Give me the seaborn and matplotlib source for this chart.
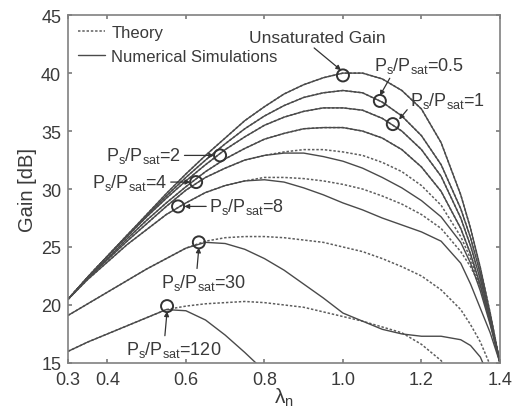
import numpy as np
import pandas as pd
import seaborn as sns
import matplotlib
matplotlib.use("Agg")
import matplotlib.pyplot as plt
from matplotlib.lines import Line2D

# ---- data ----
lam = [0.30, 0.35, 0.40, 0.45, 0.50, 0.55, 0.60, 0.65, 0.70, 0.75, 0.80, 0.85,
       0.90, 0.95, 1.00, 1.05, 1.10, 1.15, 1.20, 1.25, 1.30, 1.325, 1.35, 1.375, 1.40]

nan = np.nan
# Theory (dashed)
th_unsat = [20.5, 22.4, 24.2, 26.0, 27.8, 29.6, 31.3, 32.9, 34.4, 35.9, 37.1, 38.2,
            39.0, 39.6, 40.0, 40.0, 39.5, 38.5, 36.9, 34.0, 29.5, 26.6, 23.2, 19.3, 15.0]
th_05 = [20.5, 22.4, 24.2, 26.0, 27.7, 29.4, 31.0, 32.5, 33.9, 35.2, 36.3, 37.2,
         37.9, 38.3, 38.5, 38.3, 37.5, 36.3, 34.6, 32.1, 28.3, 25.8, 22.7, 19.0, 15.0]
th_1 = [20.5, 22.4, 24.2, 25.9, 27.6, 29.2, 30.7, 32.1, 33.4, 34.5, 35.5, 36.2,
        36.7, 37.0, 37.0, 36.8, 36.1, 35.0, 33.4, 31.1, 27.5, 25.1, 22.2, 18.8, 15.0]
th_2 = [20.5, 22.3, 24.0, 25.7, 27.3, 28.8, 30.2, 31.5, 32.6, 33.5, 34.3, 34.8,
        35.2, 35.3, 35.3, 35.0, 34.4, 33.4, 31.9, 29.8, 26.6, 24.4, 21.7, 18.5, 15.0]
th_4 = [20.5, 22.3, 23.9, 25.5, 27.0, 28.5, 29.9, 31.0, 31.8, 32.5, 32.9, 33.2,
        33.4, 33.4, 33.2, 32.9, 32.3, 31.5, 30.3, 28.6, 25.9, 24.0, 21.5, 18.5, 15.0]
th_8 = [20.5, 22.2, 23.7, 25.2, 26.5, 27.8, 28.8, 29.7, 30.3, 30.7, 31.0, 31.0,
        30.9, 30.7, 30.4, 30.0, 29.4, 28.7, 27.8, 26.6, 24.6, 23.3, 21.6, 18.8, 15.0]
th_30 = [19.1, 20.1, 21.1, 22.1, 23.1, 24.0, 24.9, 25.5, 25.8, 25.9, 25.9, 25.8,
         25.6, 25.4, 25.0, 24.6, 24.0, 23.3, 22.5, 21.3, 19.6, 18.3, 16.8, 14.8, 12.5]
th_120 = [16.0, 16.8, 17.5, 18.2, 18.9, 19.6, 19.9, 20.1, 20.2, 20.3, 20.2, 20.0,
          19.8, 19.4, 19.0, 18.6, 18.1, 17.6, 16.6, 15.2, 13.0, nan, nan, nan, nan]

# Numerical simulations (solid)
sim_unsat = th_unsat
sim_05 = th_05
sim_1 = th_1
sim_2 = th_2
sim_4 = [20.5, 22.3, 23.9, 25.5, 27.0, 28.5, 29.9, 31.0, 31.8, 32.5, 32.9, 33.1,
         33.1, 32.8, 32.4, 31.8, 31.0, 30.1, 29.0, 27.6, 25.4, 23.6, 21.2, 18.3, 15.0]
sim_8 = [20.5, 22.2, 23.7, 25.2, 26.5, 27.8, 28.8, 29.7, 30.3, 30.7, 30.8, 30.6,
         30.1, 29.5, 28.8, 28.2, 27.5, 26.9, 26.3, 25.5, 23.6, 21.8, 19.7, 17.6, 15.0]
sim_30 = [19.1, 20.1, 21.1, 22.1, 23.1, 24.0, 24.9, 25.4, 25.3, 24.8, 24.0, 23.0,
          21.8, 20.6, 19.3, 18.6, 17.9, 17.5, 17.3, 17.3, 17.0, 16.5, 15.5, 13.5, 12.0]
sim_120 = [16.0, 16.8, 17.5, 18.2, 18.9, 19.6, 19.5, 18.7, 17.4, 15.9, 14.3, 12.8,
           nan, nan, nan, nan, nan, nan, nan, nan, nan, nan, nan, nan, nan]

theory = [th_unsat, th_05, th_1, th_2, th_4, th_8, th_30, th_120]
sims = [sim_unsat, sim_05, sim_1, sim_2, sim_4, sim_8, sim_30, sim_120]

# marker (circle) positions
mark_x = [1.00, 1.094, 1.127, 0.687, 0.626, 0.58, 0.633, 0.552]
mark_y = [39.8, 37.6, 35.6, 32.9, 30.6, 28.5, 25.4, 19.9]

xticks = [0.3, 0.4, 0.6, 0.8, 1.0, 1.2, 1.4]
xticklabels = ['0.3', '0.4', '0.6', '0.8', '1.0', '1.2', '1.4']
yticks = [15, 20, 25, 30, 35, 40, 45]

# ---- styling ----
sns.set_theme(style="ticks")
plt.rcParams['font.family'] = ['Liberation Sans', 'DejaVu Sans']
plt.rcParams['mathtext.fontset'] = 'custom'
plt.rcParams['mathtext.rm'] = 'Liberation Sans'
plt.rcParams['mathtext.it'] = 'Liberation Sans:italic'

line_c = '#4a4a4a'
dash_c = '#5e5e5e'
txt_c = '#3a3a3a'
frame_c = '#808080'
dash_ls = (0, (1.6, 1.2))

fig = plt.figure(figsize=(5.16, 4.14), dpi=100)
ax = fig.add_axes([0.132, 0.121, 0.837, 0.840])

for ys in theory:
    sns.lineplot(x=lam, y=ys, ax=ax, color=dash_c, lw=1.1,
                 linestyle=dash_ls, estimator=None, sort=False)
for ys in sims:
    sns.lineplot(x=lam, y=ys, ax=ax, color=line_c, lw=1.0,
                 estimator=None, sort=False)

sns.scatterplot(x=mark_x, y=mark_y, ax=ax, s=75, facecolor='none',
                edgecolor='#333333', linewidth=1.4, marker='o', zorder=5)

ax.set_xlim(0.3, 1.4)
ax.set_ylim(15, 45)
ax.set_xticks(xticks)
ax.set_xticklabels(xticklabels)
ax.set_yticks(yticks)
ax.tick_params(direction='in', length=3, top=True, right=True,
               labelsize=13, colors=frame_c, labelcolor=txt_c)
ax.tick_params(axis='x', pad=6)
ax.tick_params(axis='y', pad=5)
for sp in ax.spines.values():
    sp.set_color(frame_c)
    sp.set_linewidth(1.2)

ax.set_xlabel(r'$\mathregular{\lambda_n}$', fontsize=15, color=txt_c, labelpad=-2)
ax.set_ylabel('Gain [dB]', fontsize=14.5, color=txt_c, labelpad=3)

handles = [Line2D([0], [0], color=dash_c, lw=1.1, linestyle=dash_ls),
           Line2D([0], [0], color=line_c, lw=1.0)]
ax.legend(handles, ['Theory', 'Numerical Simulations'], loc='upper left',
          frameon=False, fontsize=12, handlelength=1.6, handletextpad=0.4,
          labelspacing=0.55, borderaxespad=0.2, labelcolor=txt_c,
          bbox_to_anchor=(0.0, 1.0))

def lab(v):
    return r'$\mathregular{P_s/P_{sat}}$=' + v

akw = dict(arrowstyle='-|>', color='#333333', lw=0.9, mutation_scale=7,
           shrinkA=0, shrinkB=0)
fs = 13

ax.annotate('Unsaturated Gain', xy=(0.995, 40.25), xytext=(0.76, 43.1),
            fontsize=12.5, color=txt_c, ha='left', va='center',
            arrowprops=dict(akw, relpos=(0.45, 0.0)))
ax.annotate(lab('0.5'), xy=(1.094, 38.05), xytext=(1.078, 40.7),
            fontsize=fs, color=txt_c, ha='left', va='center',
            arrowprops=dict(akw, relpos=(0.2, 0.0)))
ax.annotate(lab('1'), xy=(1.143, 36.0), xytext=(1.172, 37.7),
            fontsize=fs, color=txt_c, ha='left', va='center',
            arrowprops=dict(akw, relpos=(0.0, 0.2)))
ax.annotate(lab('2'), xy=(0.672, 32.9), xytext=(0.588, 32.9),
            fontsize=fs, color=txt_c, ha='right', va='center',
            arrowprops=dict(akw, relpos=(1.0, 0.5)))
ax.annotate(lab('4'), xy=(0.611, 30.6), xytext=(0.553, 30.6),
            fontsize=fs, color=txt_c, ha='right', va='center',
            arrowprops=dict(akw, relpos=(1.0, 0.5)))
ax.annotate(lab('8'), xy=(0.596, 28.5), xytext=(0.66, 28.5),
            fontsize=fs, color=txt_c, ha='left', va='center',
            arrowprops=dict(akw, relpos=(0.0, 0.5)))
ax.annotate(lab('30'), xy=(0.633, 24.95), xytext=(0.645, 22.0),
            fontsize=fs, color=txt_c, ha='center', va='center',
            arrowprops=dict(akw, relpos=(0.42, 1.0)))
ax.annotate(lab('120'), xy=(0.552, 19.45), xytext=(0.57, 16.2),
            fontsize=fs, color=txt_c, ha='center', va='center',
            arrowprops=dict(akw, relpos=(0.4, 1.0)))

fig.savefig('out.png', dpi=100)
